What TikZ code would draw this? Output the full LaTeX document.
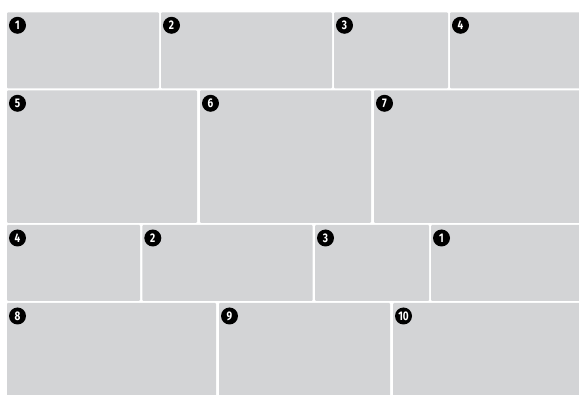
\documentclass[tikz,border=0pt]{standalone}
\usepackage{fontspec}
\newfontfamily\badgefont{Fira Sans}[FakeStretch=0.8]
\definecolor{tilegray}{HTML}{D3D4D6}
\begin{document}
\begin{tikzpicture}[x=1pt,y=-1pt,
  tile/.style={fill=tilegray, rounded corners=1pt, inner sep=0pt, outer sep=0pt, anchor=north west, draw=none},
  badge/.style={circle, fill=black, minimum size=17pt, inner sep=0pt, text=white,
    font=\badgefont\bfseries\fontsize{12.5}{12.5}\selectfont}]
\useasboundingbox (0,0) rectangle (579,395);
\newcommand\mytile[6]{%
  \node[tile, minimum width={#4pt-#2pt}, minimum height={#5pt-#3pt}] (t#1) at (#2,#3) {};
  \node[badge] (b#1) at ([shift={(10.5,13)}]t#1.north west) {#6};}
% row 1
\mytile{1}{7}{12.3}{159}{88.5}{1}
\mytile{2}{161}{12.3}{332}{88.5}{2}
\mytile{3}{334}{12.3}{448}{88.5}{3}
\mytile{4}{450}{12.3}{581}{88.5}{4}
% row 2
\mytile{5}{7}{90.3}{197}{222.8}{5}
\mytile{6}{200}{90.3}{371}{222.8}{6}
\mytile{7}{374}{90.3}{581}{222.8}{7}
% row 3
\mytile{8}{7}{225}{140}{301}{4}
\mytile{9}{142.3}{225}{312.5}{301}{2}
\mytile{10}{315}{225}{429}{301}{3}
\mytile{11}{431}{225}{581}{301}{1}
% row 4
\mytile{12}{7}{303}{216}{397}{8}
\mytile{13}{219}{303}{390}{397}{9}
\mytile{14}{393}{303}{581}{397}{10}
\end{tikzpicture}
\end{document}
